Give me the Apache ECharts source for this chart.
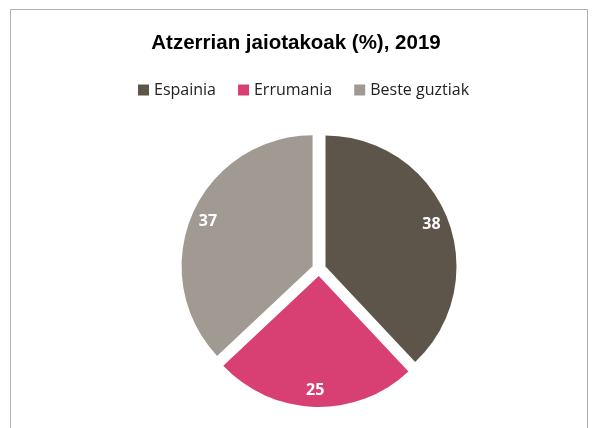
<!DOCTYPE html>
<html>
<head>
<meta charset="utf-8">
<script src="https://cdn.jsdelivr.net/npm/echarts@6/dist/echarts.min.js"></script>
<style>
  html, body { margin: 0; padding: 0; background: #fff; }
  #chart { width: 592px; height: 428px; }
</style>
</head>
<body>
<div id="chart"></div>
<script>
// data
let names = ['Espainia', 'Errumania', 'Beste guztiak'];
let values = [38, 25, 37];
let colors = ['#5e554a', '#d83f73', '#a19a92'];

let pie_data = names.map(function (n, i) {
    return {name: n, value: values[i], selected: true, itemStyle: {color: colors[i]}};
});
// same slices again, transparent, only to put the labels further out
let label_data = names.map(function (n, i) {
    return {name: n, value: values[i], selected: true, itemStyle: {color: 'rgba(0,0,0,0)'}};
});

let myChart = echarts.init(document.getElementById('chart'));
let option = {
    animation: false,
    title: {
        text: 'Atzerrian jaiotakoak (%), 2019',
        left: 'center',
        top: 28,
        textStyle: {
            fontFamily: 'Liberation Sans',
            fontWeight: 'bold',
            fontSize: 20.5,
            color: '#000'
        }
    },
    legend: {
        data: names,
        top: 77,
        left: 133,
        icon: 'rect',
        itemWidth: 11,
        itemHeight: 11,
        itemGap: 22,
        textStyle: {
            fontFamily: 'Open Sans',
            fontSize: 16,
            color: '#222'
        }
    },
    graphic: [
        {
            type: 'rect',
            shape: {x: 10.5, y: 9.5, width: 577, height: 440},
            style: {fill: 'none', stroke: '#b0b0b0', lineWidth: 1},
            silent: true
        }
    ],
    series: [
        {
            type: 'pie',
            center: [319, 269],
            radius: [0, 131],
            startAngle: 90,
            clockwise: true,
            selectedMode: 'multiple',
            selectedOffset: 7,
            label: {show: false},
            labelLine: {show: false},
            itemStyle: {borderWidth: 0},
            emphasis: {disabled: true},
            data: pie_data
        },
        {
            type: 'pie',
            center: [319, 269],
            radius: [91, 131],
            startAngle: 90,
            clockwise: true,
            selectedMode: 'multiple',
            selectedOffset: 7,
            silent: true,
            label: {
                show: true,
                position: 'inside',
                formatter: '{c}',
                color: '#fff',
                fontFamily: 'Open Sans',
                fontWeight: 'bold',
                fontSize: 16
            },
            labelLine: {show: false},
            emphasis: {disabled: true},
            data: label_data
        }
    ]
};
myChart.setOption(option);
</script>
</body>
</html>
